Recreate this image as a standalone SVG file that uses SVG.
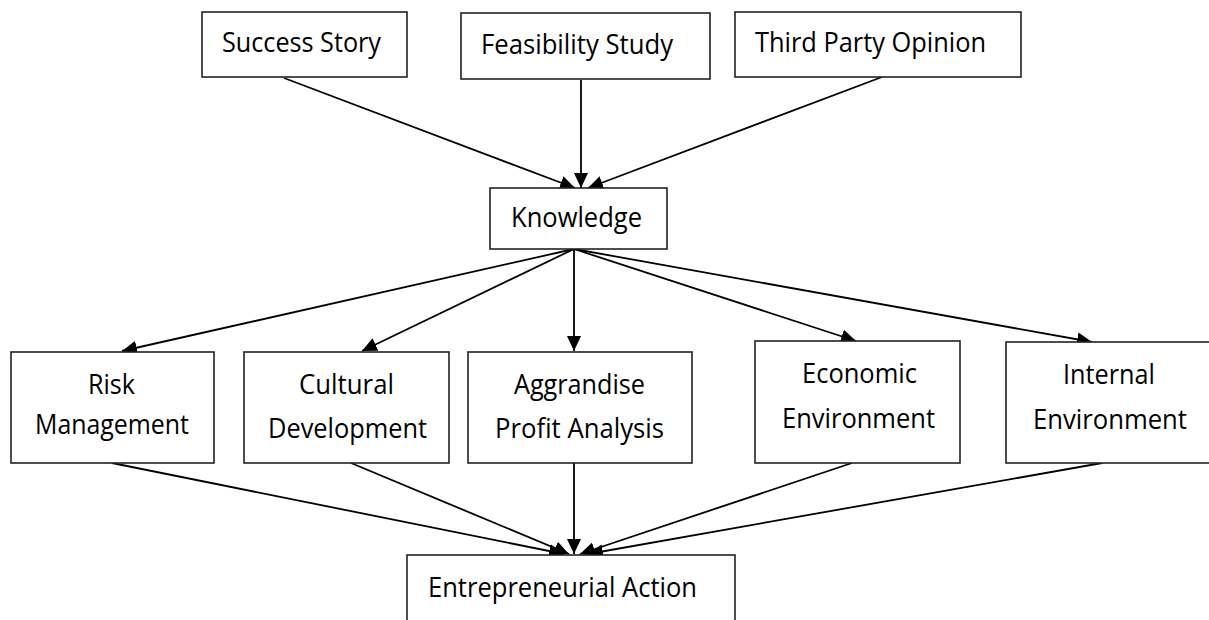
<svg xmlns="http://www.w3.org/2000/svg" width="1209" height="620" viewBox="0 0 1209 620">
<style>
.box{fill:#fff;stroke:#222;stroke-width:1.6}
.t{font-family:"Open Sans","Noto Sans","Liberation Sans",sans-serif;font-size:26.5px;fill:#000}
.c{stroke:#000;stroke-width:1.8;fill:none;marker-end:url(#ah)}
</style>
<defs>
<marker id="ah" markerUnits="userSpaceOnUse" markerWidth="16" markerHeight="14" refX="15" refY="7" orient="auto">
<path d="M0,0 L15,7 L0,14 z" fill="#000"/>
</marker>
</defs>
<rect width="1209" height="620" fill="#fff"/>
<g id="connectors">
<line class="c" x1="284" y1="78" x2="575" y2="188"/>
<line class="c" x1="581" y1="80" x2="581" y2="188"/>
<line class="c" x1="882" y1="77" x2="588" y2="188"/>
<line class="c" x1="574" y1="249" x2="122" y2="351"/>
<line class="c" x1="574" y1="249" x2="362" y2="351"/>
<line class="c" x1="574" y1="249" x2="574" y2="351"/>
<line class="c" x1="574" y1="249" x2="856" y2="341"/>
<line class="c" x1="574" y1="249" x2="1092" y2="342"/>
<line class="c" x1="112" y1="463" x2="564" y2="554"/>
<line class="c" x1="351" y1="463" x2="569" y2="554"/>
<line class="c" x1="574" y1="463" x2="574" y2="554"/>
<line class="c" x1="852" y1="463" x2="580" y2="554"/>
<line class="c" x1="1102" y1="463" x2="588" y2="554"/>
</g>
<g id="success-story">
<rect class="box" x="202" y="12" width="205" height="65"/>
<text class="t" x="222" y="52" textLength="159" lengthAdjust="spacingAndGlyphs">Success Story</text>
</g>
<g id="feasibility-study">
<rect class="box" x="461" y="13" width="249" height="66"/>
<text class="t" x="481" y="53.5" textLength="192" lengthAdjust="spacingAndGlyphs">Feasibility Study</text>
</g>
<g id="third-party-opinion">
<rect class="box" x="735" y="12" width="286" height="65"/>
<text class="t" x="755" y="52" textLength="231" lengthAdjust="spacingAndGlyphs">Third Party Opinion</text>
</g>
<g id="knowledge">
<rect class="box" x="490" y="188" width="177" height="61"/>
<text class="t" x="511" y="227" textLength="131" lengthAdjust="spacingAndGlyphs">Knowledge</text>
</g>
<g id="risk-management">
<rect class="box" x="11" y="352" width="203" height="111"/>
<text class="t" x="88" y="394" textLength="47" lengthAdjust="spacingAndGlyphs">Risk</text>
<text class="t" x="35" y="433.5" textLength="154" lengthAdjust="spacingAndGlyphs">Management</text>
</g>
<g id="cultural-development">
<rect class="box" x="244" y="352" width="205" height="111"/>
<text class="t" x="299" y="394" textLength="95" lengthAdjust="spacingAndGlyphs">Cultural</text>
<text class="t" x="268" y="437.5" textLength="159" lengthAdjust="spacingAndGlyphs">Development</text>
</g>
<g id="aggrandise-profit-analysis">
<rect class="box" x="468" y="352" width="224" height="111"/>
<text class="t" x="514" y="394" textLength="131" lengthAdjust="spacingAndGlyphs">Aggrandise</text>
<text class="t" x="495" y="437.5" textLength="169" lengthAdjust="spacingAndGlyphs">Profit Analysis</text>
</g>
<g id="economic-environment">
<rect class="box" x="755" y="341" width="205" height="122"/>
<text class="t" x="802" y="382.5" textLength="115" lengthAdjust="spacingAndGlyphs">Economic</text>
<text class="t" x="782" y="427.5" textLength="153" lengthAdjust="spacingAndGlyphs">Environment</text>
</g>
<g id="internal-environment">
<rect class="box" x="1006" y="342" width="210" height="121"/>
<text class="t" x="1063" y="384" textLength="92" lengthAdjust="spacingAndGlyphs">Internal</text>
<text class="t" x="1033" y="429" textLength="154" lengthAdjust="spacingAndGlyphs">Environment</text>
</g>
<g id="entrepreneurial-action">
<rect class="box" x="407" y="555" width="328" height="80"/>
<text class="t" x="428" y="596.5" textLength="269" lengthAdjust="spacingAndGlyphs">Entrepreneurial Action</text>
</g>
</svg>
